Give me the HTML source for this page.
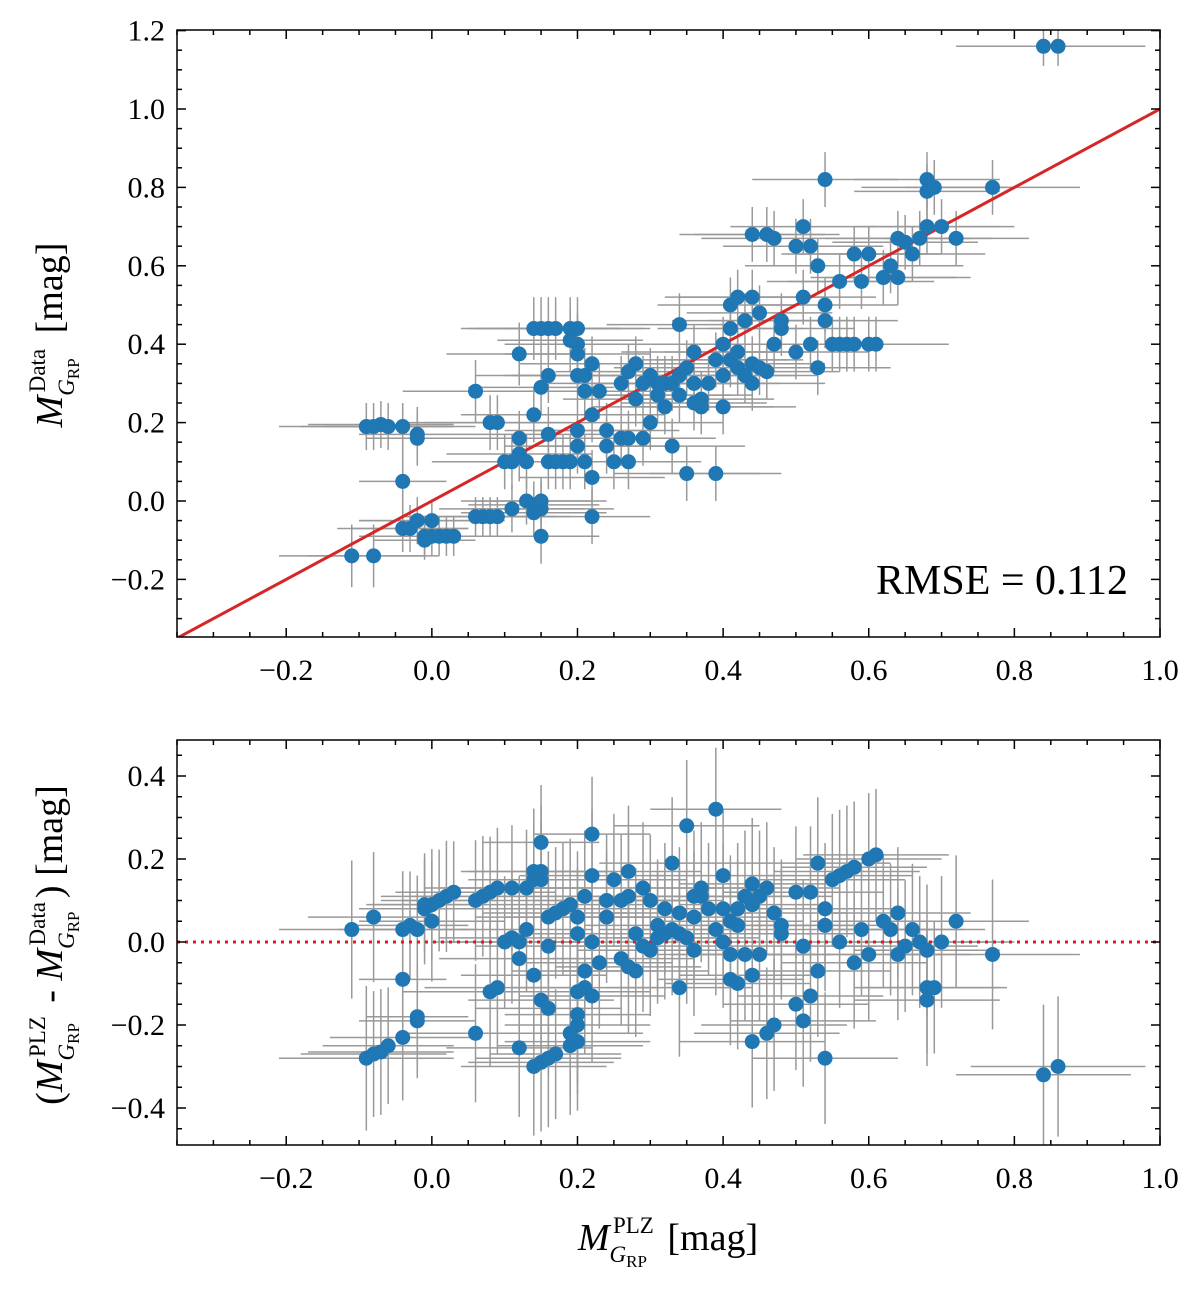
<!DOCTYPE html>
<html><head><meta charset="utf-8"><style>
body{margin:0;background:#fff}
svg text{font-family:"Liberation Serif",serif;fill:#000}
</style></head><body>
<svg id="fig" width="1200" height="1284" xmlns="http://www.w3.org/2000/svg">
<defs>
<clipPath id="c1"><rect x="177" y="30" width="983" height="607"/></clipPath>
<clipPath id="c2"><rect x="177" y="740" width="983" height="405"/></clipPath>
</defs>
<g id="top-axes"></g>
<g id="bot-axes"></g>
<text x="1128" y="594" font-size="42" text-anchor="end">RMSE = 0.112</text>
<text transform="translate(62,335) rotate(-90)" font-size="38" text-anchor="middle"><tspan font-style="italic">M</tspan><tspan font-size="23" dy="12"><tspan font-style="italic">G</tspan><tspan font-size="17" dy="5">RP</tspan></tspan><tspan font-size="23" dx="-34" dy="-34">Data</tspan><tspan dy="17" dx="6"> [mag]</tspan></text>
<text transform="translate(62,945) rotate(-90)" font-size="38" text-anchor="middle">(<tspan font-style="italic">M</tspan><tspan font-size="23" dy="12"><tspan font-style="italic">G</tspan><tspan font-size="17" dy="5">RP</tspan></tspan><tspan font-size="23" dx="-34" dy="-34">PLZ</tspan><tspan dy="17" dx="4"> - </tspan><tspan font-style="italic">M</tspan><tspan font-size="23" dy="12"><tspan font-style="italic">G</tspan><tspan font-size="17" dy="5">RP</tspan></tspan><tspan font-size="23" dx="-34" dy="-34">Data</tspan><tspan dy="17" dx="4">) [mag]</tspan></text>
<text x="668" y="1250" font-size="38" text-anchor="middle"><tspan font-style="italic">M</tspan><tspan font-size="23" dy="12"><tspan font-style="italic">G</tspan><tspan font-size="17" dy="5">RP</tspan></tspan><tspan font-size="23" dx="-34" dy="-34">PLZ</tspan><tspan dy="17" dx="4"> [mag]</tspan></text>
</svg>
<script>
const rows=[
[-0.11,-0.14,0.10,0.08],[-0.08,-0.14,0.09,0.08],[-0.09,0.19,0.12,0.06],[-0.08,0.19,0.1,0.06],[-0.07,0.195,0.1,0.06],[-0.06,0.19,0.09,0.06],[-0.04,0.19,0.1,0.06],[-0.02,0.17,0.08,0.07],[-0.02,0.16,0.07,0.07],
[-0.04,0.05,0.06,0.08],[-0.04,-0.07,0.09,0.06],[-0.03,-0.07,0.08,0.06],[-0.02,-0.05,0.08,0.06],[-0.01,-0.09,0.09,0.05],[0.0,-0.09,0.09,0.05],[0.0,-0.05,0.1,0.05],[0.01,-0.09,0.08,0.05],[0.02,-0.09,0.09,0.05],[0.03,-0.09,0.08,0.05],[-0.01,-0.1,0.07,0.05],
[0.06,-0.04,0.1,0.05],[0.07,-0.04,0.1,0.05],[0.08,-0.04,0.09,0.05],[0.09,-0.04,0.1,0.05],[0.11,-0.02,0.1,0.06],[0.13,0.0,0.09,0.06],[0.14,-0.01,0.09,0.06],[0.15,-0.02,0.1,0.07],[0.15,-0.09,0.08,0.07],[0.15,0.0,0.09,0.06],[0.14,-0.03,0.1,0.06],
[0.06,0.28,0.1,0.08],[0.08,0.2,0.12,0.07],[0.09,0.2,0.1,0.07],[0.1,0.1,0.1,0.07],[0.11,0.1,0.1,0.07],[0.12,0.16,0.11,0.07],[0.12,0.12,0.1,0.07],[0.13,0.1,0.09,0.07],[0.12,0.375,0.1,0.08],[0.14,0.44,0.1,0.08],[0.15,0.44,0.1,0.08],[0.16,0.44,0.1,0.08],[0.17,0.44,0.09,0.08],[0.19,0.44,0.1,0.08],[0.2,0.44,0.1,0.08],[0.2,0.4,0.1,0.08],[0.19,0.41,0.1,0.08],[0.2,0.375,0.1,0.08],[0.16,0.32,0.1,0.07],[0.15,0.29,0.1,0.07],[0.14,0.22,0.1,0.07],[0.16,0.17,0.1,0.07],[0.16,0.1,0.1,0.07],[0.17,0.1,0.1,0.07],[0.18,0.1,0.1,0.07],[0.19,0.1,0.1,0.07],[0.2,0.18,0.1,0.07],[0.2,0.14,0.1,0.07],[0.21,0.1,0.1,0.07],[0.22,0.22,0.1,0.07],[0.22,0.06,0.1,0.07],[0.22,-0.04,0.08,0.07],
[0.2,0.32,0.1,0.07],[0.21,0.28,0.1,0.07],[0.21,0.32,0.1,0.07],[0.22,0.35,0.1,0.07],[0.23,0.28,0.1,0.07],[0.24,0.18,0.1,0.07],[0.24,0.14,0.1,0.07],[0.25,0.1,0.1,0.07],[0.26,0.16,0.1,0.07],[0.27,0.16,0.1,0.07],[0.27,0.1,0.1,0.07],[0.28,0.35,0.1,0.07],[0.28,0.26,0.1,0.07],[0.29,0.16,0.1,0.07],[0.3,0.32,0.1,0.07],[0.3,0.2,0.1,0.07],[0.31,0.3,0.1,0.07],[0.32,0.3,0.1,0.07],[0.32,0.24,0.1,0.07],[0.33,0.3,0.1,0.07],[0.33,0.14,0.1,0.07],[0.34,0.45,0.1,0.08],[0.34,0.32,0.1,0.07],[0.35,0.07,0.1,0.07],[0.35,0.34,0.1,0.07],[0.36,0.3,0.1,0.07],[0.36,0.38,0.1,0.07],[0.37,0.26,0.1,0.07],[0.38,0.3,0.1,0.07],[0.39,0.36,0.1,0.07],[0.39,0.07,0.09,0.07],[0.4,0.32,0.1,0.07],[0.4,0.4,0.1,0.07],[0.41,0.44,0.1,0.07],[0.41,0.5,0.1,0.07],[0.42,0.52,0.1,0.07],[0.43,0.46,0.1,0.07],[0.44,0.52,0.1,0.07],[0.44,0.68,0.1,0.07],[0.45,0.48,0.1,0.07],[0.46,0.68,0.1,0.07],[0.47,0.4,0.1,0.07],[0.47,0.67,0.1,0.07],[0.48,0.44,0.1,0.07],[0.5,0.65,0.1,0.07],[0.51,0.7,0.1,0.07],[0.51,0.52,0.1,0.07],[0.52,0.65,0.1,0.07],[0.52,0.4,0.1,0.07],[0.53,0.6,0.1,0.07],[0.54,0.82,0.1,0.07],[0.54,0.5,0.1,0.07],[0.55,0.4,0.1,0.07],[0.56,0.4,0.1,0.07],[0.56,0.56,0.1,0.07],[0.57,0.4,0.1,0.07],[0.58,0.63,0.1,0.07],[0.59,0.56,0.1,0.07],[0.6,0.63,0.1,0.07],[0.61,0.4,0.1,0.07],[0.62,0.57,0.1,0.07],[0.63,0.6,0.1,0.07],[0.64,0.57,0.1,0.07],[0.64,0.67,0.1,0.07],[0.65,0.66,0.1,0.07],[0.66,0.63,0.1,0.07],[0.67,0.67,0.1,0.07],[0.68,0.79,0.1,0.07],[0.68,0.82,0.1,0.07],[0.69,0.8,0.1,0.07],[0.68,0.7,0.1,0.07],[0.7,0.7,0.1,0.07],[0.72,0.67,0.1,0.07],[0.77,0.8,0.12,0.07],[0.84,1.16,0.12,0.05],[0.86,1.16,0.12,0.05],
[0.26,0.3,0.1,0.07],[0.27,0.33,0.1,0.07],[0.29,0.3,0.1,0.07],[0.31,0.27,0.1,0.07],[0.34,0.27,0.1,0.07],[0.36,0.25,0.1,0.07],[0.42,0.34,0.1,0.07],[0.43,0.32,0.1,0.07],[0.44,0.35,0.1,0.07],[0.45,0.34,0.1,0.07],[0.46,0.33,0.1,0.07],[0.44,0.3,0.1,0.07],[0.4,0.24,0.1,0.07],[0.37,0.24,0.1,0.07],[0.41,0.36,0.1,0.07],[0.42,0.38,0.1,0.07],[0.48,0.46,0.1,0.07],[0.5,0.38,0.1,0.07],[0.53,0.34,0.1,0.07],[0.54,0.46,0.1,0.07],[0.58,0.4,0.1,0.07],[0.6,0.4,0.1,0.07]
];
const plzMag=rows.map(r=>r[0]);
const dataMag=rows.map(r=>r[1]);
const plzErr=rows.map(r=>r[2]);
const dataErr=rows.map(r=>r[3]);
const xTicks=[-0.2,0,0.2,0.4,0.6,0.8,1.0];
const yTicksTop=[-0.2,0,0.2,0.4,0.6,0.8,1.0,1.2];
const yTicksBot=[-0.4,-0.2,0,0.2,0.4];

const NS="http://www.w3.org/2000/svg";
const X0=177,X1=1160,XMIN=-0.35,XMAX=1.0;
const sx=v=>X0+(v-XMIN)/(XMAX-XMIN)*(X1-X0);
const syT=v=>501-v*392;
const syB=v=>942-v*415;
function mk(parent,tag,attrs){const e=document.createElementNS(NS,tag);for(const k in attrs)e.setAttribute(k,attrs[k]);parent.appendChild(e);return e;}
const fmt=v=>(v<0?"\u2212":"")+Math.abs(v).toFixed(1);

function axes(g,top,bot,sy,ymin,ymax,yt,clip,prefix){
  const minor=[];
  for(let v=-0.35;v<=1.0001;v+=0.05)minor.push(+v.toFixed(2));
  minor.forEach(v=>{const x=sx(v);const maj=xTicks.some(t=>Math.abs(t-v)<1e-6);const L=maj?9:5;
    mk(g,'line',{x1:x,x2:x,y1:bot,y2:bot-L,stroke:'#000','stroke-width':1.5});
    mk(g,'line',{x1:x,x2:x,y1:top,y2:top+L,stroke:'#000','stroke-width':1.5});});
  xTicks.forEach(v=>{const t=mk(g,'text',{x:sx(v),y:bot+43,'font-size':30,'text-anchor':'middle'});t.textContent=fmt(v);
    
    });
  for(let v=Math.ceil(ymin/0.05)*0.05;v<=ymax+1e-6;v+=0.05){const vv=+v.toFixed(2);const y=sy(vv);const maj=yt.some(t=>Math.abs(t-vv)<1e-6);const L=maj?9:5;
    mk(g,'line',{x1:X0,x2:X0+L,y1:y,y2:y,stroke:'#000','stroke-width':1.5});
    mk(g,'line',{x1:X1,x2:X1-L,y1:y,y2:y,stroke:'#000','stroke-width':1.5});}
  yt.forEach(v=>{const t=mk(g,'text',{x:X0-12,y:sy(v)+10,'font-size':30,'text-anchor':'end'});t.textContent=fmt(v);
    
    });
}

const gT=document.getElementById('top-axes');
const pT=mk(gT,'g',{'clip-path':'url(#c1)'});
rows.forEach((r,i)=>{
  const x=sx(plzMag[i]),y=syT(dataMag[i]);
  const h=mk(pT,'line',{x1:sx(plzMag[i]-plzErr[i]),x2:sx(plzMag[i]+plzErr[i]),y1:y,y2:y,stroke:'#999','stroke-width':1.5});
  
  
  const v=mk(pT,'line',{x1:x,x2:x,y1:syT(dataMag[i]-dataErr[i]),y2:syT(dataMag[i]+dataErr[i]),stroke:'#999','stroke-width':1.5});
  
  
});
const ln=mk(pT,'line',{x1:sx(XMIN),y1:syT(XMIN),x2:sx(XMAX),y2:syT(XMAX),stroke:'#d62728','stroke-width':3});


rows.forEach((r,i)=>{
  const c=mk(pT,'circle',{cx:sx(plzMag[i]),cy:syT(dataMag[i]),r:7.5,fill:'#1f77b4'});
  
  
});
mk(gT,'rect',{x:X0,y:30,width:X1-X0,height:607,fill:'none',stroke:'#000','stroke-width':1.5});
axes(gT,30,637,syT,-0.35,1.2,yTicksTop,'c1','top-');

const gB=document.getElementById('bot-axes');
const pB=mk(gB,'g',{'clip-path':'url(#c2)'});
const resid=plzMag.map((v,i)=>v-dataMag[i]);
rows.forEach((r,i)=>{
  const x=sx(plzMag[i]),y=syB(resid[i]);const e=Math.hypot(plzErr[i],dataErr[i])*1.3;
  const h=mk(pB,'line',{x1:sx(plzMag[i]-plzErr[i]),x2:sx(plzMag[i]+plzErr[i]),y1:y,y2:y,stroke:'#999','stroke-width':1.5});
  
  
  const v=mk(pB,'line',{x1:x,x2:x,y1:syB(resid[i]-e),y2:syB(resid[i]+e),stroke:'#999','stroke-width':1.5});
  
  
});
const zl=mk(pB,'line',{x1:X0,x2:X1,y1:syB(0),y2:syB(0),stroke:'#e31a1c','stroke-width':3,'stroke-dasharray':'3,5'});


rows.forEach((r,i)=>{
  const c=mk(pB,'circle',{cx:sx(plzMag[i]),cy:syB(resid[i]),r:7.5,fill:'#1f77b4'});
  
  
});
mk(gB,'rect',{x:X0,y:740,width:X1-X0,height:405,fill:'none',stroke:'#000','stroke-width':1.5});
axes(gB,740,1145,syB,-0.49,0.49,yTicksBot,'c2','bottom-');
</script>
</body></html>
